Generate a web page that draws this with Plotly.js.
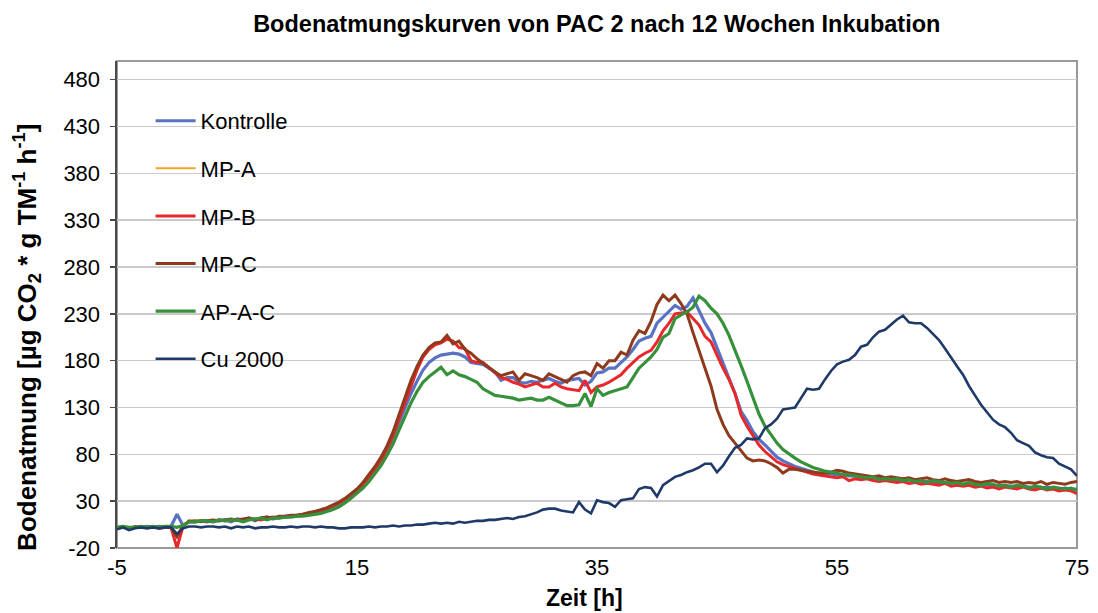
<!DOCTYPE html>
<html>
<head>
<meta charset="utf-8">
<script src="https://cdn.plot.ly/plotly-3.0.1.min.js"></script>
<style>html,body{margin:0;padding:0;background:#fff;}#chart{width:1098px;height:613px;}</style>
</head>
<body>
<div id="chart"></div>
<script>
// Time [h], every 0.5 h from -5 to 75
const time = [
-5,-4.5,-4,-3.5,-3,-2.5,-2,-1.5,-1,-0.5,
0,0.5,1,1.5,2,2.5,3,3.5,4,4.5,
5,5.5,6,6.5,7,7.5,8,8.5,9,9.5,
10,10.5,11,11.5,12,12.5,13,13.5,14,14.5,
15,15.5,16,16.5,17,17.5,18,18.5,19,19.5,
20,20.5,21,21.5,22,22.5,23,23.5,24,24.5,
25,25.5,26,26.5,27,27.5,28,28.5,29,29.5,
30,30.5,31,31.5,32,32.5,33,33.5,34,34.5,
35,35.5,36,36.5,37,37.5,38,38.5,39,39.5,
40,40.5,41,41.5,42,42.5,43,43.5,44,44.5,
45,45.5,46,46.5,47,47.5,48,48.5,49,49.5,
50,50.5,51,51.5,52,52.5,53,53.5,54,54.5,
55,55.5,56,56.5,57,57.5,58,58.5,59,59.5,
60,60.5,61,61.5,62,62.5,63,63.5,64,64.5,
65,65.5,66,66.5,67,67.5,68,68.5,69,69.5,
70,70.5,71,71.5,72,72.5,73,73.5,74,74.5,
75];

const kontrolle = [
1,3,0,2,2,3,2,3,2,3,
16,4,8,8,9,8,9,9,10,8,
11,10,12,9,12,13,11,13,13,14,
14,15,16,17,19,21,24,27,31,35,
40,46,53,62,71,82,96,114,130,145,
158,170,178,183,186,187,188,187,184,178,
177,176,172,168,159,162,162,157,156,158,
157,159,161,158,156,159,160,161,154,158,
167,168,172,172,178,184,192,201,204,206,
220,226,232,239,235,238,247,233,220,210,
194,178,161,145,126,116,104,96,90,84,
77,73,70,67,65,63,61,60,60,59,
58,58,57,57,56,55,55,54,54,53,
53,52,53,52,51,51,50,50,49,50,
49,48,48,47,48,47,46,47,46,46,
45,46,45,44,44,45,44,43,44,43,
43];

const timeMPA = [-5,-4.5,-4,-3.5,-3,-2.5,-2,-1.5,-1,-0.5,0,0.5,1];
const mpA = [2,2,1,3,2,2,3,1,2,2,-20,3,8];

const mpB = [
2,2,1,3,2,2,3,1,2,2,
-20,3,9,8,9,9,8,10,9,10,
10,9,11,11,10,12,13,12,14,14,
15,16,17,19,20,22,25,28,32,37,
42,48,56,64,74,86,100,118,136,153,
170,184,192,197,199,203,201,194,193,180,
178,178,172,167,162,160,157,155,152,154,
156,152,152,156,152,150,149,148,159,146,
152,154,157,161,165,172,178,184,188,191,
200,212,220,230,231,232,225,218,206,200,
186,172,160,145,122,110,100,90,83,77,
72,69,67,65,63,61,59,58,57,56,
55,56,52,54,53,54,52,51,52,51,
50,51,49,50,48,49,48,47,49,46,
47,46,47,45,46,44,45,43,45,44,
43,45,43,42,44,42,43,41,42,41,
38];

const mpC = [
2,3,1,2,3,2,3,2,3,2,
-8,4,8,9,8,9,10,9,10,11,
10,11,12,10,12,13,12,14,14,15,
15,16,18,19,21,23,26,29,33,38,
43,50,58,67,77,89,104,122,141,159,
174,186,194,199,200,207,198,201,192,188,
182,177,172,168,164,166,168,159,166,164,
162,159,166,163,160,157,164,167,168,164,
177,172,180,180,189,186,202,212,209,222,
240,250,244,250,241,230,210,190,172,153,
128,112,100,92,84,76,73,74,73,70,
66,60,64,64,63,62,61,60,60,61,
63,62,60,59,58,57,56,57,55,56,
55,54,55,53,54,55,53,52,54,52,
51,52,53,51,50,51,52,50,51,50,
51,49,50,49,51,48,50,49,48,50,
51];

const apAC = [
2,3,2,2,3,2,3,2,3,3,
2,4,8,8,9,9,8,10,9,10,
10,8,10,11,12,10,12,12,13,13,
14,14,15,16,17,19,21,24,28,33,
38,44,51,59,68,79,91,106,121,135,
147,157,163,168,173,165,169,165,163,160,
157,150,146,143,142,141,140,138,139,140,
138,138,141,138,135,132,132,133,145,131,
150,143,146,148,150,152,162,172,178,184,
192,205,209,225,229,232,237,249,244,236,
230,220,207,192,175,158,140,123,110,101,
92,85,80,76,72,69,66,64,62,61,
60,58,58,57,56,55,56,53,54,53,
54,52,53,51,52,50,52,51,50,49,
50,48,50,48,47,49,48,46,47,45,
47,46,44,46,45,43,45,44,43,44,
41];

const cu2000 = [
0,2,-1,1,2,1,2,1,2,2,
-5,1,3,3,2,3,3,2,3,1,
3,2,3,1,2,2,3,2,2,3,
2,3,3,2,3,2,2,1,1,2,
2,2,3,2,3,3,4,3,4,4,
5,5,6,7,6,7,6,8,7,8,
9,9,10,10,11,12,11,13,14,16,
18,21,22,22,20,19,18,29,21,17,
31,29,28,24,31,32,33,43,45,44,
35,47,52,56,58,61,63,66,70,70,
61,68,78,87,90,97,96,97,108,112,
118,128,129,130,140,150,149,150,160,169,
176,179,181,186,195,197,205,211,213,219,
224,228,221,220,220,215,208,202,193,183,
174,165,153,143,133,125,117,112,109,103,
95,92,89,82,79,77,76,70,67,64,
57];

const xTicks = [-5, 15, 35, 55, 75];
const yTicks = [-20, 30, 80, 130, 180, 230, 280, 330, 380, 430, 480];

const FONT = "Liberation Sans, Arial, sans-serif";

function tr(name, x, y, color, width, group) {
  return {type: 'scatter', mode: 'lines', name: name, x: x, y: y,
          line: {color: color, width: width}, legendgroup: group, xaxis: 'x', yaxis: 'y'};
}

const data = [
  tr('Kontrolle', time, kontrolle, '#5a72c4', 3.2, 'g1'),
  tr('MP-A', timeMPA, mpA, '#f2a22e', 2, 'g2'),
  tr('MP-B', time, mpB, '#e8282c', 3, 'g3'),
  tr('MP-C', time, mpC, '#8e3a1c', 3, 'g4'),
  tr('AP-A-C', time, apAC, '#36913a', 3.2, 'g5'),
  tr('Cu 2000', time, cu2000, '#1f3a68', 2.6, 'g6')
];

const layout = {
  width: 1098, height: 613,
  margin: {l: 117, r: 21, t: 61, b: 65},
  paper_bgcolor: '#fff', plot_bgcolor: '#fff',
  font: {family: FONT, size: 20, color: '#000'},
  title: {text: '<b>Bodenatmungskurven von PAC 2 nach 12 Wochen Inkubation</b>',
          font: {family: FONT, size: 23.5, color: '#000'},
          x: 0.5435, xanchor: 'center', y: 0.962, yanchor: 'middle'},
  xaxis: {range: [-5, 75], tickvals: xTicks, ticktext: xTicks.map(String),
          showgrid: false, zeroline: false, showline: false, ticks: '',
          ticklabelstandoff: 4,
          tickfont: {family: FONT, size: 22, color: '#000'}},
  xaxis2: {overlaying: 'x', anchor: 'free', position: 20/520, range: [-5, 75],
           tickvals: xTicks, showticklabels: false, showgrid: false, zeroline: false,
           showline: true, linecolor: '#333', linewidth: 1.5, ticks: 'outside', ticklen: 6, tickcolor: '#333', tickwidth: 1.5},
  yaxis: {range: [-20, 500], tickvals: yTicks, ticktext: yTicks.map(String),
          showgrid: true, gridcolor: '#c9c9cf', gridwidth: 1.5, zeroline: false,
          showline: true, linecolor: '#4a4a4a', linewidth: 2.5, ticks: 'outside', ticklen: 5, tickcolor: '#4a4a4a', tickwidth: 1.5,
          ticklabelstandoff: 5,
          tickfont: {family: FONT, size: 22, color: '#000'}},
  annotations: [
    {text: '<b>Bodenatmung [µg CO<sub>2</sub> * g TM<sup>-1</sup> h<sup>-1</sup>]</b>',
     xref: 'paper', yref: 'paper', x: -0.094, y: 0.433, xanchor: 'center', yanchor: 'middle',
     textangle: -90, showarrow: false, font: {family: FONT, size: 26, color: '#000'}},
    {text: '<b>Zeit [h]</b>', xref: 'paper', yref: 'paper', x: 0.487, y: -0.103,
     xanchor: 'center', yanchor: 'middle', showarrow: false,
     font: {family: FONT, size: 23, color: '#000'}}
  ],
  shapes: [{type: 'rect', xref: 'paper', yref: 'paper', x0: 0, x1: 1, y0: 0, y1: 1,
            line: {color: '#9a9a9a', width: 2}, layer: 'below'}],
  showlegend: true,
  legend: {x: 0.035, y: 0.92, xanchor: 'left', yanchor: 'top', bgcolor: 'rgba(0,0,0,0)',
           font: {family: FONT, size: 22, color: '#000'}, tracegroupgap: 16, itemwidth: 40}
};

Plotly.newPlot('chart', data, layout, {displayModeBar: false, staticPlot: true});
</script>
</body>
</html>
